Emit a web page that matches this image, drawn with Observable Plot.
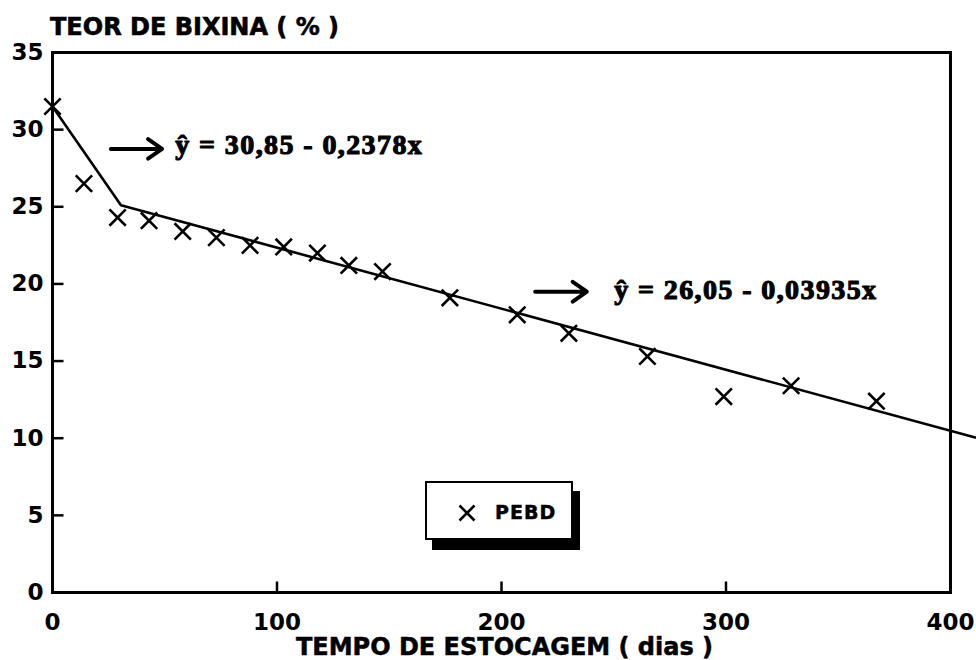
<!DOCTYPE html>
<html>
<head>
<meta charset="utf-8">
<script src="https://cdn.jsdelivr.net/npm/d3@7"></script>
<script src="https://cdn.jsdelivr.net/npm/@observablehq/plot@0.6"></script>
<style>
  body { margin: 0; background: #fff; }
  #wrap { position: relative; width: 976px; height: 660px; overflow: hidden; background: #fff; }
  #title { position: absolute; left: 50px; top: 15px; font: bold 24px "DejaVu Sans"; line-height: 24px; white-space: pre; color: #000; -webkit-text-stroke: 0.6px #000; }
  #chart { position: absolute; left: 0; top: 40px; }
  #legend { position: absolute; left: 425px; top: 481px; width: 148px; height: 59px; box-sizing: border-box;
            border: 2.5px solid #000; background: #fff; box-shadow: 7px 10px 0 #000; }
  #legend svg { position: absolute; left: 31px; top: 21px; }
  #legend span { position: absolute; left: 68px; top: 17px; font: bold 19px "DejaVu Sans"; letter-spacing: 1px; line-height: 24px; -webkit-text-stroke: 0.5px #000; }
</style>
</head>
<body>
<div id="wrap">
  <div id="title"></div>
  <div id="chart"></div>
  <div id="legend"><svg width="18" height="18"><path d="M1.5,1.5L16.5,16.5M1.5,16.5L16.5,1.5" stroke="#000" stroke-width="2.6" fill="none"/></svg><span id="legendLabel"></span></div>
</div>
<script>
// ---- data ----
const titleText = "TEOR DE BIXINA ( % )";
const xLabel = "TEMPO DE ESTOCAGEM ( dias )";
const seriesName = "PEBD";

const days   = [0, 14, 29, 43, 58, 73, 88, 103, 118, 132, 147, 177, 207, 230, 265, 299, 329, 367];
const bixina = [31.5, 26.5, 24.3, 24.1, 23.4, 23.0, 22.5, 22.4, 22.0, 21.2, 20.8, 19.1, 18.0, 16.8, 15.3, 12.7, 13.4, 12.4];

// fitted (piecewise) regression line vertices
const fitDays  = [0, 30.5, 411];
const fitValue = [31.5, 25.1, 10.05];

const xTicks = [0, 100, 200, 300, 400];
const yTicks = [0, 5, 10, 15, 20, 25, 30, 35];

// equation annotations (data units)
const eqText  = ["ŷ = 30,85 - 0,2378x", "ŷ = 26,05 - 0,03935x"];
const eqX     = [54.7, 250.2];
const eqY     = [28.44, 19.03];
const arrowX1 = [26, 215];
const arrowX2 = [48.8, 238];
const arrowY  = [28.75, 19.5];

// ---- layout ----
const W = 976, H = 620, mL = 52, mR = 26, mT = 12, mB = 68;
const xDomain = [0, 400], yDomain = [0, 35];
const tickPx = 11;
const xTickLen = tickPx * (xDomain[1] - xDomain[0]) / (W - mL - mR);
const yTickLen = tickPx * (yDomain[1] - yDomain[0]) / (H - mT - mB);

// ---- build tables ----
const points = days.map((d, i) => ({day: d, value: bixina[i]}));
const fit = fitDays.map((d, i) => ({day: d, value: fitValue[i]}));
const eqs = eqText.map((t, i) => ({text: t, x: eqX[i], y: eqY[i], x1: arrowX1[i], x2: arrowX2[i], ya: arrowY[i]}));
const innerX = xTicks.filter(d => d > xDomain[0] && d < xDomain[1]);
const innerY = yTicks.filter(d => d > yDomain[0] && d < yDomain[1]);
const tickMarks = [
  ...innerX.map(t => ({x1: t, x2: t, y1: yDomain[0], y2: yDomain[0] + yTickLen})),
  ...innerY.map(t => ({x1: xDomain[0], x2: xDomain[0] + xTickLen, y1: t, y2: t}))
];

document.getElementById("title").textContent = titleText;
document.getElementById("legendLabel").textContent = seriesName;

const plot = Plot.plot({
  width: W,
  height: H,
  marginLeft: mL,
  marginRight: mR,
  marginTop: mT,
  marginBottom: mB,
  style: {fontFamily: "DejaVu Sans", fontSize: "23px", fontWeight: "bold", background: "white", color: "black", overflow: "visible"},
  x: {domain: xDomain, ticks: xTicks, tickSize: 0, tickPadding: 21, label: null},
  y: {domain: yDomain, ticks: yTicks, tickSize: 0, tickPadding: 9, label: null},
  marks: [
    Plot.frame({stroke: "black", strokeWidth: 3}),
    Plot.link(tickMarks, {x1: "x1", y1: "y1", x2: "x2", y2: "y2", stroke: "black", strokeWidth: 2.5}),
    Plot.line(fit, {x: "day", y: "value", stroke: "black", strokeWidth: 2.6}),
    Plot.dot(points, {x: "day", y: "value", symbol: "times", r: 7.5, stroke: "black", strokeWidth: 2.6}),
    Plot.arrow(eqs, {x1: "x1", x2: "x2", y1: "ya", y2: "ya", stroke: "black", strokeWidth: 4, headLength: 8, headAngle: 70}),
    Plot.text(eqs, {x: "x", y: "y", text: "text", textAnchor: "start", lineAnchor: "bottom",
      fontFamily: "Liberation Serif", fontSize: 28, fontWeight: "bold", fill: "black", stroke: "black", strokeWidth: 1.1}),
    Plot.text([xLabel], {text: d => d, frameAnchor: "bottom", dy: 62, dx: 3, lineAnchor: "bottom", fontSize: 24, fontWeight: "bold", fill: "black", stroke: "black", strokeWidth: 0.5})
  ]
});

d3.select(plot).selectAll("text").each(function() {
  if (this.textContent.startsWith("ŷ")) this.setAttribute("letter-spacing", "1.4px");
});

document.getElementById("chart").appendChild(plot);
</script>
</body>
</html>
